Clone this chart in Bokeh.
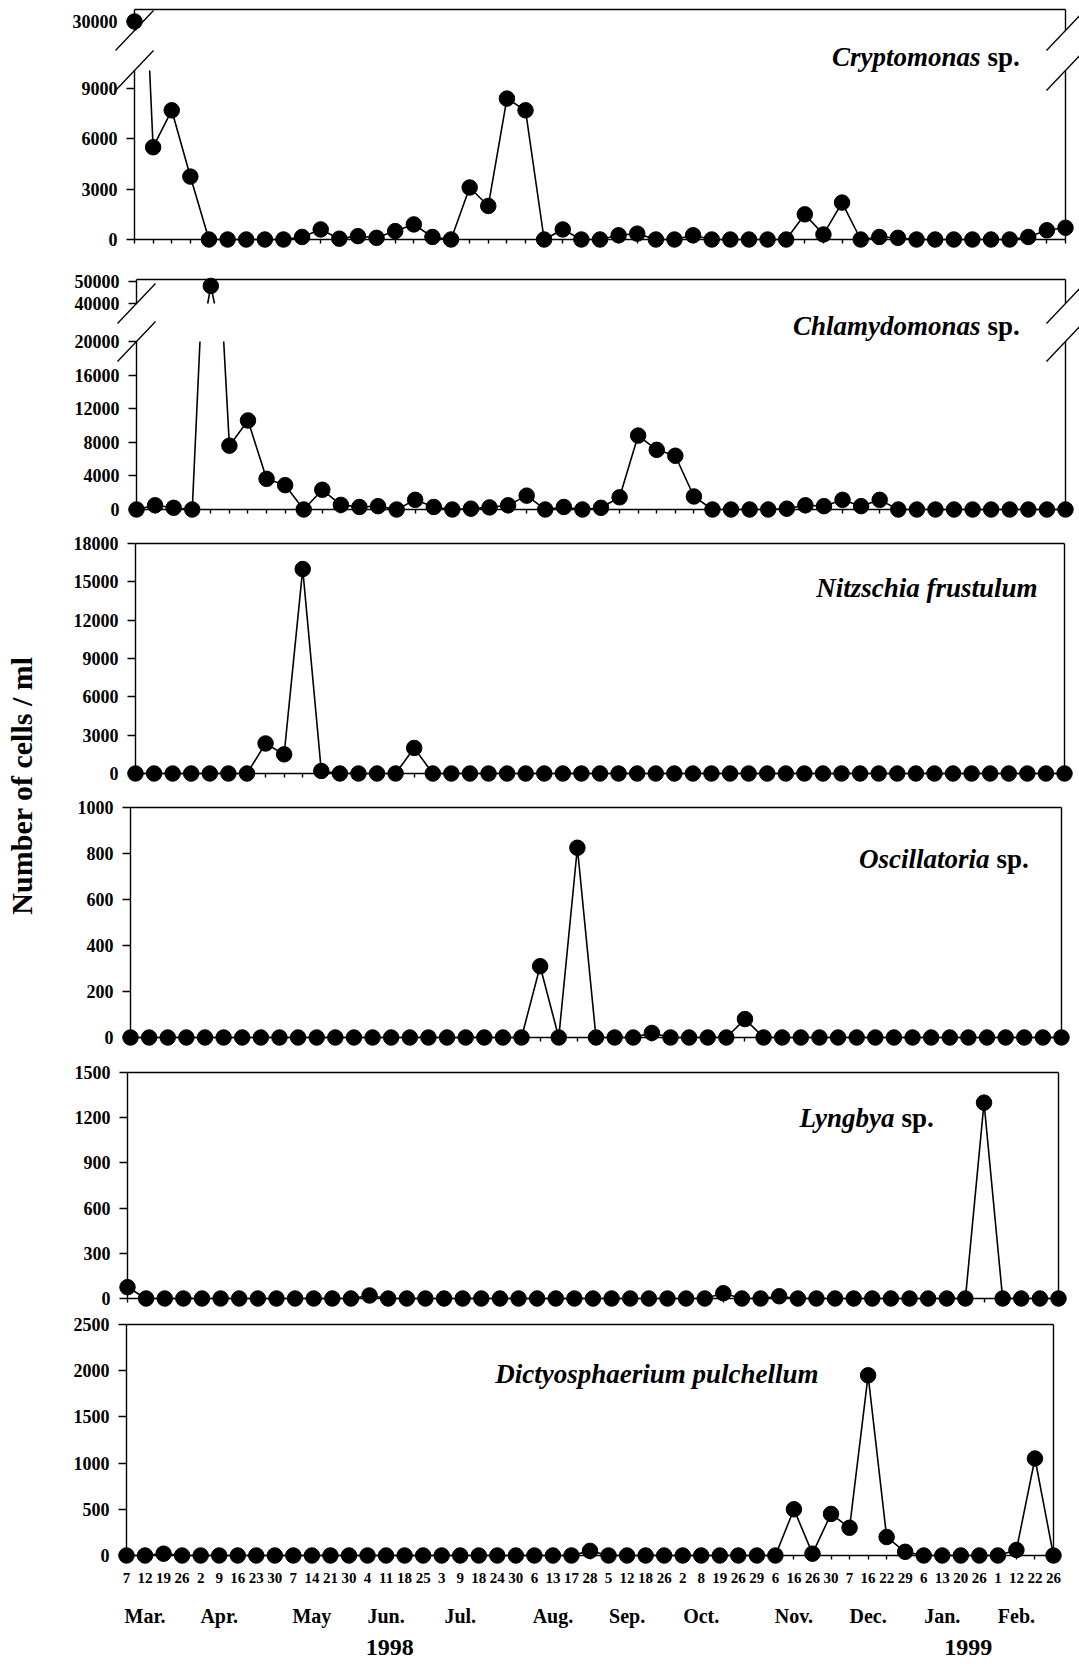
import math
import numpy as np
from bokeh.plotting import figure
from bokeh.models import Range1d, LinearAxis, FixedTicker, Label
from bokeh.layouts import row, column
from bokeh.embed import file_html
from bokeh.resources import INLINE

# ---------------- data ----------------
days = [7, 12, 19, 26, 2, 9, 16, 23, 30, 7, 14, 21, 30, 4, 11, 18, 25,
        3, 9, 18, 24, 30, 6, 13, 17, 28, 5, 12, 18, 26, 2, 8, 19, 26, 29,
        6, 16, 26, 30, 7, 16, 22, 29, 6, 13, 20, 26, 1, 12, 22, 26]
months = ["Mar.", "Apr.", "May", "Jun.", "Jul.", "Aug.", "Sep.", "Oct.",
          "Nov.", "Dec.", "Jan.", "Feb."]
samples_per_month = [4, 5, 4, 4, 5, 4, 4, 5, 4, 4, 4, 4]
years = ["1998", "1999"]
year_ticks = [14.2, 45.4]

cryptomonas = [30000, 5500, 7700, 3750, 0, 0, 0, 0, 0, 150,
               600, 50, 200, 100, 500, 900, 150, 0, 3100, 2000,
               8400, 7700, 0, 600, 0, 0, 250, 350, 0, 0,
               250, 0, 0, 0, 0, 0, 1500, 300, 2200, 0,
               150, 100, 0, 0, 0, 0, 0, 0, 150, 550, 700]
chlamydomonas = [0, 500, 200, 0, 48000, 7600, 10600, 3650, 2900, 0,
                 2350, 550, 300, 400, 0, 1150, 300, 0, 100, 250,
                 500, 1650, 0, 300, 0, 200, 1450, 8800, 7100, 6400,
                 1550, 0, 0, 0, 0, 100, 500, 400, 1150, 400,
                 1150, 0, 0, 0, 0, 0, 0, 0, 0, 0, 0]
nitzschia = [0, 0, 0, 0, 0, 0, 0, 2350, 1500, 16000,
             200, 0, 0, 0, 0, 2000, 0, 0, 0, 0,
             0, 0, 0, 0, 0, 0, 0, 0, 0, 0,
             0, 0, 0, 0, 0, 0, 0, 0, 0, 0,
             0, 0, 0, 0, 0, 0, 0, 0, 0, 0, 0]
oscillatoria = [0, 0, 0, 0, 0, 0, 0, 0, 0, 0,
                0, 0, 0, 0, 0, 0, 0, 0, 0, 0,
                0, 0, 310, 0, 825, 0, 0, 0, 20, 0,
                0, 0, 0, 80, 0, 0, 0, 0, 0, 0,
                0, 0, 0, 0, 0, 0, 0, 0, 0, 0, 0]
lyngbya = [75, 0, 0, 0, 0, 0, 0, 0, 0, 0,
           0, 0, 0, 20, 0, 0, 0, 0, 0, 0,
           0, 0, 0, 0, 0, 0, 0, 0, 0, 0,
           0, 0, 35, 0, 0, 15, 0, 0, 0, 0,
           0, 0, 0, 0, 0, 0, 1300, 0, 0, 0, 0]
dictyosphaerium = [0, 0, 20, 0, 0, 0, 0, 0, 0, 0,
                   0, 0, 0, 0, 0, 0, 0, 0, 0, 0,
                   0, 0, 0, 0, 0, 50, 0, 0, 0, 0,
                   0, 0, 0, 0, 0, 0, 500, 20, 450, 300,
                   1950, 200, 40, 0, 0, 0, 0, 0, 60, 1050, 0]

# ---------------- layout / style ----------------
FONT = "Liberation Serif"
PAGE_W, PAGE_H = 1079, 1664
X0 = 44                       # width of the y-label strip
FIG_W = PAGE_W - X0
N = len(days)
xs = np.arange(N, dtype=float)

panels = [
    dict(data=cryptomonas, genus="Cryptomonas", sp=True, fig=(0, 262),
         left=134, right=1065, top=9, zero=239, ymax=13710,
         ticks=[0, 3000, 6000, 9000],
         brk=dict(lo=10074, hi=28200, ref=30000, ref_y=21, per_px=200.0,
                  ticks=[30000]),
         title=(980, 56)),
    dict(data=chlamydomonas, genus="Chlamydomonas", sp=True, fig=(262, 530),
         left=136, right=1065, top=279, zero=509, ymax=27381,
         ticks=[0, 4000, 8000, 12000, 16000, 20000],
         brk=dict(lo=20000, hi=40000, ref=50000, ref_y=281,
                  per_px=10000 / 22.0, ticks=[40000, 50000]),
         title=(980, 325)),
    dict(data=nitzschia, genus="Nitzschia frustulum", sp=False, fig=(530, 794),
         left=135, right=1064, top=543, zero=773, ymax=18000,
         ticks=list(range(0, 18001, 3000)), title=(1037, 587)),
    dict(data=oscillatoria, genus="Oscillatoria", sp=True, fig=(794, 1058),
         left=130, right=1061, top=807, zero=1037, ymax=1000,
         ticks=list(range(0, 1001, 200)), title=(989, 858)),
    dict(data=lyngbya, genus="Lyngbya", sp=True, fig=(1058, 1314),
         left=127, right=1058, top=1072, zero=1298, ymax=1500,
         ticks=list(range(0, 1501, 300)), title=(894, 1117)),
    dict(data=dictyosphaerium, genus="Dictyosphaerium pulchellum", sp=False,
         fig=(1314, 1664), left=126, right=1053, top=1324, zero=1555,
         ymax=2500, ticks=list(range(0, 2501, 500)), title=(818, 1373)),
]


def clip_poly(x, y, lo, hi):
    """Keep the parts of a polyline whose y lies in [lo, hi] (NaN gaps)."""
    ox, oy = [], []
    for k in range(len(x) - 1):
        x0, y0, x1, y1 = x[k], y[k], x[k + 1], y[k + 1]
        t0, t1 = 0.0, 1.0
        dy = y1 - y0
        if dy == 0:
            if y0 < lo or y0 > hi:
                continue
        else:
            ta, tb = (lo - y0) / dy, (hi - y0) / dy
            t0 = max(t0, min(ta, tb))
            t1 = min(t1, max(ta, tb))
            if t0 > t1:
                continue
        ax_, ay_ = x0 + t0 * (x1 - x0), y0 + t0 * dy
        bx_, by_ = x0 + t1 * (x1 - x0), y0 + t1 * dy
        if ox and (ox[-1] != ax_ or oy[-1] != ay_):
            ox.append(np.nan)
            oy.append(np.nan)
        if not ox or np.isnan(ox[-1]):
            ox.append(ax_)
            oy.append(ay_)
        ox.append(bx_)
        oy.append(by_)
    return np.array(ox, dtype=float), np.array(oy, dtype=float)


def add_axis(p, side, fixed, ticks, bounds, range_name=None, tick_out=0,
             labels=False, size="18px", standoff=9, show_line=True):
    kw = {}
    if range_name and side in ("left", "right"):
        kw["y_range_name"] = range_name
    ax = LinearAxis(fixed_location=fixed,
                    ticker=FixedTicker(ticks=list(ticks)), **kw)
    if bounds is not None:
        ax.bounds = bounds
    ax.axis_line_color = "black" if show_line else None
    ax.axis_line_width = 1.4
    ax.major_tick_line_color = "black" if tick_out else None
    ax.major_tick_line_width = 1.4
    ax.major_tick_out = tick_out
    ax.major_tick_in = 0
    ax.minor_tick_line_color = None
    ax.minor_tick_out = 0
    ax.major_label_text_font = FONT
    ax.major_label_text_font_style = "bold"
    ax.major_label_text_font_size = size
    ax.major_label_standoff = standoff
    ax.major_label_text_color = "black" if labels is not False else None
    if isinstance(labels, dict):
        ax.major_label_overrides = labels
    p.add_layout(ax, side)
    return ax


LINE = dict(line_color="black", line_width=1.6)
MARK = dict(marker="circle", size=15.5, fill_color="black", line_color="black")

figs = []
for k, c in enumerate(panels):
    last = k == len(panels) - 1
    ft, fb = c["fig"]
    left, right, top, zero, ymax = c["left"], c["right"], c["top"], c["zero"], c["ymax"]
    ppx = (right - left) / (N - 1)
    ppu = (zero - top) / ymax
    # the frame fills the whole figure; axes are placed at fixed data locations
    p = figure(width=FIG_W, height=fb - ft,
               x_range=Range1d((X0 - left) / ppx, (PAGE_W - left) / ppx),
               y_range=Range1d((zero - fb) / ppu, (zero - ft) / ppu),
               min_border=0, x_axis_location=None, y_axis_location=None,
               toolbar_location=None, output_backend="svg", title=None)
    p.grid.visible = False
    p.outline_line_color = None
    p.background_fill_color = "white"
    p.border_fill_color = "white"

    vals = np.array(c["data"], dtype=float)
    b = c.get("brk")
    if b:
        hp = b["per_px"]
        hi_start = b["ref"] + (b["ref_y"] - fb) * hp
        hi_end = b["ref"] + (b["ref_y"] - ft) * hp
        hi_top = b["ref"] + (b["ref_y"] - top) * hp
        p.extra_y_ranges = {"hi": Range1d(hi_start, hi_end)}
        lx, ly = clip_poly(xs, vals, -np.inf, b["lo"])
        hx, hy = clip_poly(xs, vals, b["hi"], np.inf)
        p.line(lx, ly, **LINE)
        p.line(hx, hy, y_range_name="hi", **LINE)
        lo_m = vals <= b["lo"]
        hi_m = vals >= b["hi"]
        p.scatter(xs[lo_m], vals[lo_m], **MARK)
        p.scatter(xs[hi_m], vals[hi_m], y_range_name="hi", **MARK)
        add_axis(p, "left", 0, c["ticks"], (0, b["lo"]), tick_out=8, labels=True)
        add_axis(p, "left", 0, b["ticks"], (b["hi"], hi_top), range_name="hi",
                 tick_out=8, labels=True)
        add_axis(p, "right", N - 1, [], (0, b["lo"]))
        add_axis(p, "right", N - 1, [], (b["hi"], hi_top), range_name="hi")
        # break marks on both vertical borders
        dx = 19 / ppx
        p.segment(x0=[-dx, N - 1 - dx], y0=[b["lo"] - 20 / ppu] * 2,
                  x1=[dx, N - 1 + dx], y1=[b["lo"] + 20 / ppu] * 2,
                  line_color="black", line_width=1.3)
        p.segment(x0=[-dx, N - 1 - dx], y0=[b["hi"] - 20 * hp] * 2,
                  x1=[dx, N - 1 + dx], y1=[b["hi"] + 20 * hp] * 2,
                  y_range_name="hi", line_color="black", line_width=1.3)
    else:
        p.line(xs, vals, **LINE)
        p.scatter(xs, vals, **MARK)
        add_axis(p, "left", 0, c["ticks"], (0, ymax), tick_out=8, labels=True)
        add_axis(p, "right", N - 1, [], (0, ymax))

    add_axis(p, "above", ymax, [], (0, N - 1))
    if last:
        day_labels = {i: str(d) for i, d in enumerate(days)}
        add_axis(p, "below", 0, range(N), (0, N - 1), tick_out=4,
                 labels=day_labels, size="15px", standoff=13)
        starts = np.cumsum([0] + samples_per_month[:-1])
        month_pos = [float(s) + 1.0 for s in starts]
        add_axis(p, "below", -49 / ppu, month_pos, None,
                 labels={mp: m for mp, m in zip(month_pos, months)},
                 size="20px", standoff=0, show_line=False)
        add_axis(p, "below", -84 / ppu, year_ticks, None,
                 labels={yp: y for yp, y in zip(year_ticks, years)},
                 size="24px", standoff=0, show_line=False)
    else:
        add_axis(p, "below", 0, range(N), (0, N - 1), tick_out=4)

    tx = (c["title"][0] - left) / ppx
    ty = (zero - c["title"][1]) / ppu
    p.add_layout(Label(x=tx, y=ty, text=c["genus"], text_font=FONT,
                       text_font_style="bold italic", text_font_size="27px",
                       text_align="right", text_baseline="middle",
                       text_color="black"))
    if c["sp"]:
        p.add_layout(Label(x=tx, y=ty, x_offset=7, text="sp.", text_font=FONT,
                           text_font_style="bold", text_font_size="27px",
                           text_align="left", text_baseline="middle",
                           text_color="black"))
    figs.append(p)

TOTAL_H = sum(c["fig"][1] - c["fig"][0] for c in panels)
lab = figure(width=X0, height=TOTAL_H, x_range=Range1d(0, X0),
             y_range=Range1d(0, TOTAL_H), min_border=0,
             x_axis_location=None, y_axis_location=None,
             toolbar_location=None, output_backend="svg", title=None)
lab.grid.visible = False
lab.outline_line_color = None
lab.add_layout(Label(x=21, y=TOTAL_H - 785,
                     text="Number of cells / ml", angle=math.pi / 2,
                     text_align="center", text_baseline="middle",
                     text_font=FONT, text_font_style="bold",
                     text_font_size="30px", text_color="black"))

layout = row(lab, column(*figs, spacing=0), spacing=0)
open("out.html", "w").write(file_html(layout, INLINE))
